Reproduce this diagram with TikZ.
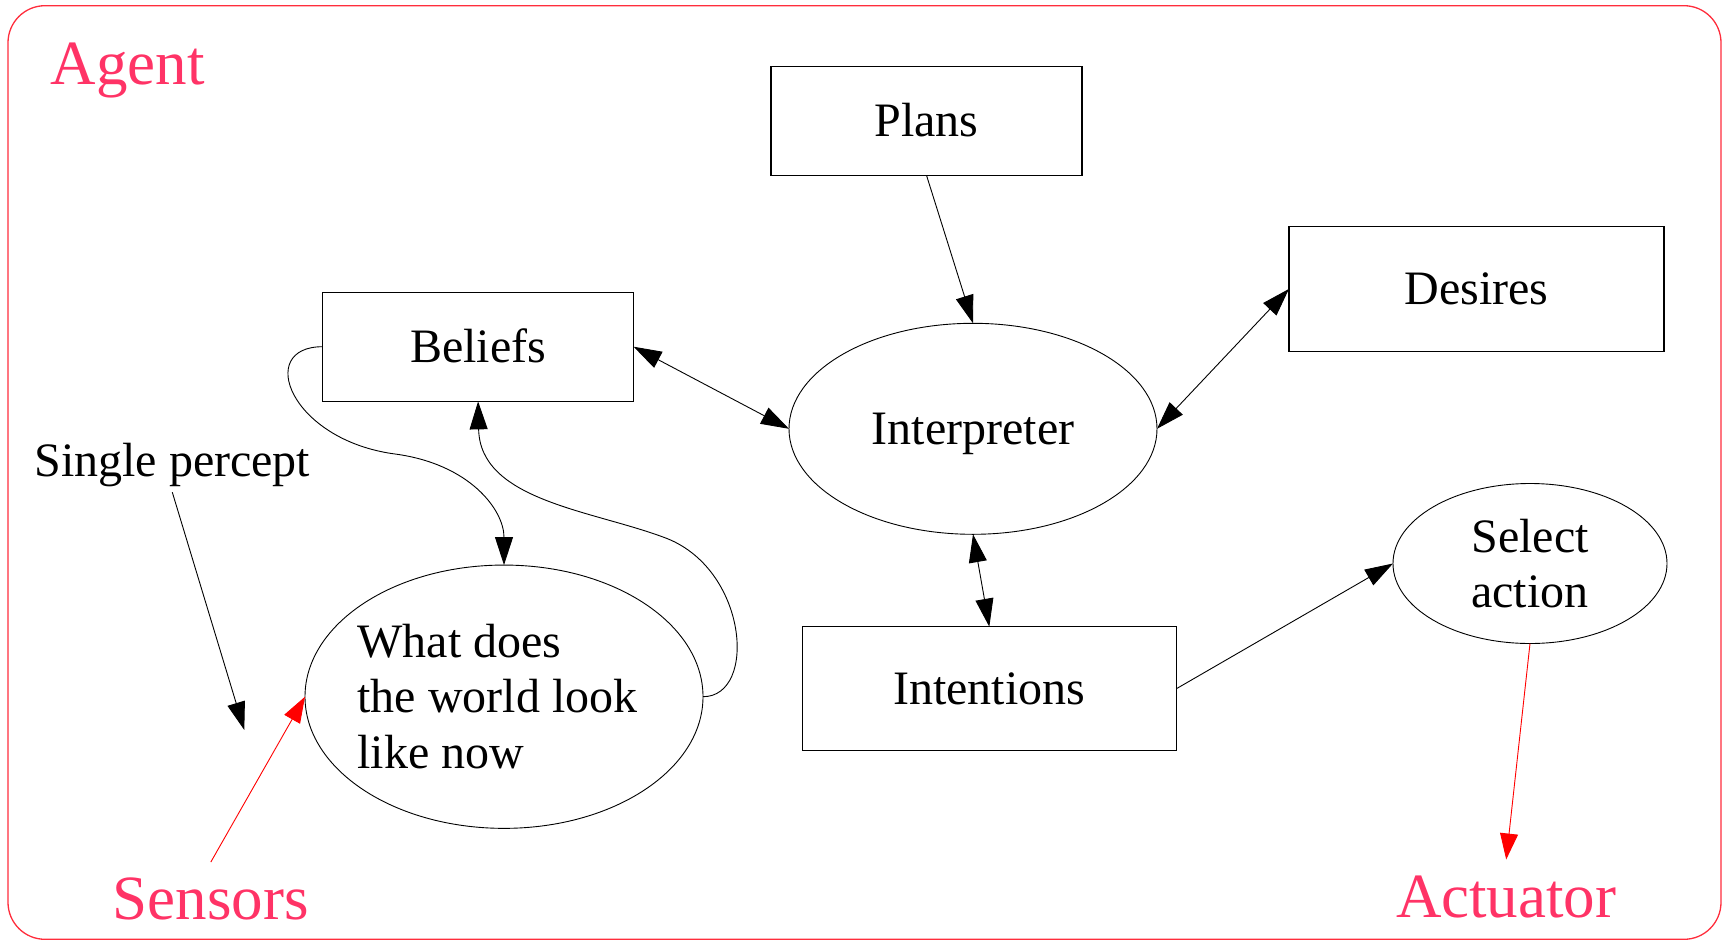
\documentclass[tikz,border=0pt]{standalone}
\usepackage{fontspec}
\setmainfont{Liberation Serif}
\usetikzlibrary{arrows.meta,shapes.geometric}
\definecolor{labelpink}{RGB}{255,51,102}
\definecolor{framered}{RGB}{255,45,60}
\definecolor{linkred}{RGB}{255,0,0}

\begin{document}
\begin{tikzpicture}[x=1pt,y=-1pt,
  >={Triangle[length=28pt,width=18pt]},
  txt/.style={font=\fontsize{48pt}{55.8pt}\selectfont},
  bigtxt/.style={font=\fontsize{63pt}{70pt}\selectfont, text=labelpink},
  boxnode/.style={txt, draw, rectangle, line width=1.1pt, inner sep=0pt, outer sep=0pt,
                  text height=31.2pt, text depth=0pt},
  ovalnode/.style={txt, draw, ellipse, line width=0.9pt, inner sep=0pt, outer sep=0pt},
  link/.style={line width=0.9pt},
  redlink/.style={line width=0.9pt, draw=linkred, ->, >={Triangle[length=26pt,width=18pt]}, color=linkred}
]
\useasboundingbox (0,0) rectangle (1722,940);

% agent boundary
\draw[framered, line width=1.3pt, rounded corners=37pt] (8,5.7) rectangle (1721,939.3);
\node[bigtxt, anchor=base west, inner sep=0pt] (agent) at (50.5,84) {Agent};

% components
\node[boxnode, minimum width=311pt, minimum height=109pt] (plans) at (926.5,120.8) {Plans};
\node[boxnode, minimum width=375pt, minimum height=124.3pt] (desires) at (1476.5,288.9) {Desires};
\node[boxnode, minimum width=311pt, minimum height=109.3pt] (beliefs) at (478.1,346.7) {Beliefs};
\node[boxnode, minimum width=374.2pt, minimum height=124pt] (intent) at (989.3,688.7) {Intentions};
\node[ovalnode, text height=31.2pt, text depth=0pt, minimum width=368pt, minimum height=211pt] (interp) at (973,428.8) {Interpreter};
\node[ovalnode, align=center, minimum width=274pt, minimum height=160pt] (select) at (1530,563.5) {Select\\action};
\node[ovalnode, minimum width=398pt, minimum height=263.3pt] (world) at (504,696.7) {};
\node[txt, align=left, inner sep=0pt] (worldtext) at (497.5,696.4) {What does\\the world look\\like now};

% outside labels
\node[txt, anchor=base, inner sep=5pt] (percept) at (172.3,476.7) {Single percept};
\coordinate (perceptend) at (244.3,730);
\node[bigtxt, anchor=base, inner sep=15pt] (sensors) at (210.8,919) {Sensors};
\node[bigtxt, anchor=base, inner sep=16pt] (actuator) at (1506.2,917.3) {Actuator};

% connectors
\draw[link, ->] (plans.south) -- (interp.north);
\draw[link, <->] (beliefs.east) -- (interp.west);
\draw[link, <->] (interp.east) -- (desires.west);
\draw[link, <->] (interp.south) -- (intent.north);
\draw[link, ->] (intent.east) -- (select.west);
\draw[link, ->] (percept.south) -- (perceptend);
\draw[link, ->] (beliefs.west) .. controls (255,346.7) and (290,440) .. (395,454)
                 .. controls (470,464) and (504,510) .. (world.north);
\draw[link, ->] (world.east) .. controls (758,696.7) and (748,566.75) .. (663,537)
                 .. controls (590,510) and (480,500) .. (beliefs.south);
\draw[redlink] (sensors.north) -- (world.west);
\draw[redlink] (select.south) -- (actuator.north);
\end{tikzpicture}
\end{document}
